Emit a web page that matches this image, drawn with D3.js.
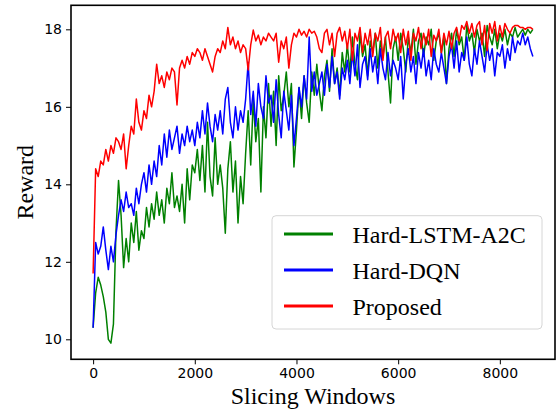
<!DOCTYPE html>
<html>
<head>
<meta charset="utf-8">
<script src="https://cdn.jsdelivr.net/npm/d3@7"></script>
<style>
  html, body { margin: 0; padding: 0; background: #fff; }
  svg { display: block; }
</style>
</head>
<body>
<svg id="chart" width="559" height="414"></svg>
<script>
// sampled every 50 slicing windows
const step = 50;

const hardLstmA2c = [
  10.3, 11.2, 11.6, 11.4, 11.1, 10.7, 10.0, 9.9, 10.4, 12.8,
  14.1, 13.2, 11.85, 12.6, 12.0, 13.0, 12.5, 13.3, 12.3, 12.8,
  12.6, 13.4, 12.9, 13.5, 13.1, 13.8, 13.2, 13.6, 13.0, 13.9,
  13.5, 14.3, 13.4, 13.7, 13.3, 14.0, 13.0, 14.4, 13.6, 14.5,
  14.3, 14.9, 14.1, 15.0, 13.8, 15.6, 14.2, 13.7, 15.2, 14.0,
  14.5, 13.9, 12.74, 14.4, 15.1, 13.8, 14.6, 13.0, 14.2, 13.5,
  14.8, 15.9, 14.5, 16.2, 15.1, 15.7, 13.8, 16.0, 15.2, 16.6,
  15.5, 16.4, 15.0, 16.8, 15.9, 16.3, 16.9, 16.0, 16.6, 14.45,
  15.4, 16.5, 15.7, 16.8, 16.1, 15.6, 16.9, 16.3, 17.1, 16.4,
  15.9, 16.8, 17.2, 16.4, 17.5, 16.6, 17.0, 16.3, 17.4, 16.9,
  17.6, 16.9, 17.8, 17.1, 16.7, 17.9, 17.3, 17.6, 16.8, 17.7,
  17.4, 17.9, 17.0, 17.7, 17.3, 17.8, 16.9, 16.1, 17.5, 17.8,
  17.2, 17.9, 17.5, 16.9, 17.8, 17.4, 18.0, 17.1, 17.7, 17.9,
  17.3, 17.8, 17.6, 18.0, 17.2, 17.7, 17.9, 17.4, 17.8, 16.6,
  17.5, 17.9, 17.3, 18.0, 17.6, 17.8, 17.2, 18.1, 17.7, 17.9,
  17.4, 18.0, 17.7, 17.9, 17.3, 18.1, 17.8, 17.6, 18.0, 17.5,
  17.9, 17.7, 18.0, 17.6, 17.9, 17.8, 18.05, 17.8, 17.9, 18.0,
  17.85, 18.0, 17.9, 18.0
];

const hardDqn = [
  10.3, 12.5, 12.2, 12.4, 12.9, 12.3, 11.8, 12.4, 12.0, 12.7,
  13.2, 13.6, 13.3, 13.8, 13.4, 13.5, 13.2, 13.9, 13.5, 14.0,
  14.3, 13.8, 14.5, 14.0, 14.6, 14.2, 15.0, 14.5, 15.3, 14.7,
  15.4, 14.9, 15.2, 15.5, 14.8, 15.3, 15.0, 15.5, 15.1, 15.4,
  15.0, 15.6, 15.2, 15.9, 15.3, 16.1, 15.5, 15.1, 15.8, 15.4,
  15.9, 15.3, 16.2, 16.5, 15.6, 15.2, 16.0, 15.4, 15.9, 15.6,
  16.2, 17.15, 15.8, 16.4, 15.5, 16.6, 16.0, 15.7, 16.8, 16.1,
  16.3, 15.6, 16.7, 15.8, 15.2, 16.4, 15.9, 15.4, 16.3, 15.0,
  15.7, 16.5, 16.0, 16.8, 16.2, 17.8, 16.4, 16.9, 16.3, 16.6,
  16.9, 16.3, 17.1, 16.5, 17.3, 16.6, 16.9, 16.2, 17.0, 16.7,
  17.2, 16.6, 17.4, 16.8, 17.6, 16.5, 17.1, 17.3, 16.7, 17.5,
  16.9, 17.3, 16.6, 17.5, 17.0, 16.7, 17.4, 16.8, 17.2, 17.0,
  16.7, 17.3, 16.2, 17.1, 17.5, 16.9, 17.3, 16.6, 17.4, 17.0,
  17.5, 16.8, 17.2, 16.7, 17.5, 17.1, 16.9, 17.4, 17.0, 16.6,
  17.3, 17.6, 17.0, 17.7, 16.9, 17.4, 17.2, 17.8, 17.1, 16.8,
  17.5, 17.1, 17.7, 17.3, 16.9, 17.6, 17.2, 17.5, 16.8, 17.4,
  17.3, 17.6, 17.0, 17.5, 17.2, 17.8, 17.4, 17.7, 17.6, 17.9,
  17.6, 17.8, 17.5, 17.3
];

const proposed = [
  11.7, 14.4, 14.2, 14.6, 14.5, 14.9, 14.6, 15.0, 14.8, 15.2,
  15.1, 14.9, 15.3, 14.4, 15.0, 15.5, 15.3, 16.2, 15.6, 15.4,
  15.9, 15.7, 16.3, 16.0, 16.4, 17.1, 16.6, 16.8, 16.5, 16.9,
  16.7, 17.0, 16.9, 16.05, 17.0, 17.2, 17.0, 17.3, 17.1, 17.4,
  17.3, 17.5, 17.4, 17.2, 17.5, 17.3, 17.1, 16.9, 17.3, 17.5,
  17.4, 17.7, 17.5, 18.05, 17.6, 17.8, 17.5, 17.7, 17.4, 17.6,
  17.5, 16.95, 17.6, 17.98, 17.7, 17.85, 17.6, 17.8, 17.7, 17.9,
  17.8, 17.7, 17.9, 17.15, 17.7, 17.5, 17.8, 17.0, 17.6, 17.9,
  17.8, 18.0, 17.85, 17.95, 17.8, 18.0, 17.9, 17.95, 17.8, 17.5,
  17.4, 17.9, 18.0, 17.6, 17.9, 17.3, 17.9, 18.05, 17.7, 17.95,
  17.5, 18.0, 17.2, 17.9, 17.7, 18.05, 17.4, 17.9, 17.6, 18.0,
  17.3, 17.9, 17.7, 18.05, 17.2, 17.8, 17.95, 17.5, 18.0, 17.7,
  17.9, 17.4, 18.0, 17.6, 17.95, 17.2, 17.9, 17.7, 18.05, 17.5,
  17.9, 17.6, 18.0, 17.3, 17.85, 17.7, 18.0, 17.4, 17.9, 17.6,
  17.95, 17.5, 17.9, 18.05, 17.7, 18.1, 18.0, 18.2, 17.9, 18.15,
  17.8, 18.1, 18.2, 17.6, 18.1, 17.45, 18.15, 17.9, 18.2, 17.7,
  18.1, 17.8, 18.15, 18.0, 17.9, 18.05, 18.1, 18.1, 18.05, 18.05,
  18.0, 18.05, 18.05, 18.0
];

const seriesNames = ["Hard-LSTM-A2C", "Hard-DQN", "Proposed"];
const seriesColors = ["green", "blue", "red"];
const xTicks = [0, 2000, 4000, 6000, 8000];
const yTicks = [10, 12, 14, 16, 18];

const svg = d3.select("#chart");
const plot = {left: 71, right: 555, top: 5.3, bottom: 359.3};

const x = d3.scaleLinear().domain([-435, 9085]).range([plot.left, plot.right]);
const y = d3.scaleLinear().domain([9.484, 18.62]).range([plot.bottom, plot.top]);

svg.append("defs").append("clipPath").attr("id", "clip")
  .append("rect")
  .attr("x", plot.left).attr("y", plot.top)
  .attr("width", plot.right - plot.left).attr("height", plot.bottom - plot.top);

const line = d3.line()
  .x((d, i) => x(i * step))
  .y(d => y(d));

const lines = svg.append("g").attr("clip-path", "url(#clip)");
[hardLstmA2c, hardDqn, proposed].forEach((vals, k) => {
  lines.append("path")
    .datum(vals)
    .attr("d", line)
    .attr("fill", "none")
    .attr("stroke", seriesColors[k])
    .attr("stroke-width", 1.5)
    .attr("stroke-linejoin", "round");
});

// axes
const xAxis = svg.append("g")
  .attr("transform", `translate(0,${plot.bottom})`)
  .call(d3.axisBottom(x).tickValues(xTicks).tickSize(5).tickPadding(4).tickSizeOuter(0).tickFormat(d3.format("d")));
const yAxis = svg.append("g")
  .attr("transform", `translate(${plot.left},0)`)
  .call(d3.axisLeft(y).tickValues(yTicks).tickSize(5).tickPadding(4).tickSizeOuter(0));

[xAxis, yAxis].forEach(a => {
  a.select(".domain").remove();
  a.selectAll("line").attr("stroke", "#000").attr("stroke-width", 1);
  a.selectAll("text")
    .attr("fill", "#000")
    .style("font-family", "'DejaVu Sans', sans-serif")
    .style("font-size", "14px");
});

// frame
svg.append("rect")
  .attr("x", plot.left).attr("y", plot.top)
  .attr("width", plot.right - plot.left).attr("height", plot.bottom - plot.top)
  .attr("fill", "none").attr("stroke", "#000").attr("stroke-width", 1.6);

// labels
svg.append("text")
  .attr("x", (plot.left + plot.right) / 2).attr("y", 404)
  .attr("text-anchor", "middle")
  .style("font-family", "'Liberation Serif', 'Times New Roman', serif")
  .style("font-size", "24px")
  .text("Slicing Windows");

svg.append("text")
  .attr("transform", `translate(33,${(plot.top + plot.bottom) / 2}) rotate(-90)`)
  .attr("text-anchor", "middle")
  .style("font-family", "'Liberation Serif', 'Times New Roman', serif")
  .style("font-size", "24px")
  .text("Reward");

// legend
const legend = svg.append("g");
legend.append("rect")
  .attr("x", 272).attr("y", 215.7)
  .attr("width", 270).attr("height", 113.3)
  .attr("rx", 4)
  .attr("fill", "#fff").attr("fill-opacity", 0.8)
  .attr("stroke", "#d6d6d6").attr("stroke-width", 1);

seriesNames.forEach((name, k) => {
  const cy = 234 + k * 36;
  legend.append("line")
    .attr("x1", 284).attr("x2", 333)
    .attr("y1", cy).attr("y2", cy)
    .attr("stroke", seriesColors[k]).attr("stroke-width", 3);
  legend.append("text")
    .attr("x", 352.5).attr("y", cy + 9)
    .style("font-family", "'Liberation Serif', 'Times New Roman', serif")
    .style("font-size", "24px")
    .text(name);
});
</script>
</body>
</html>
